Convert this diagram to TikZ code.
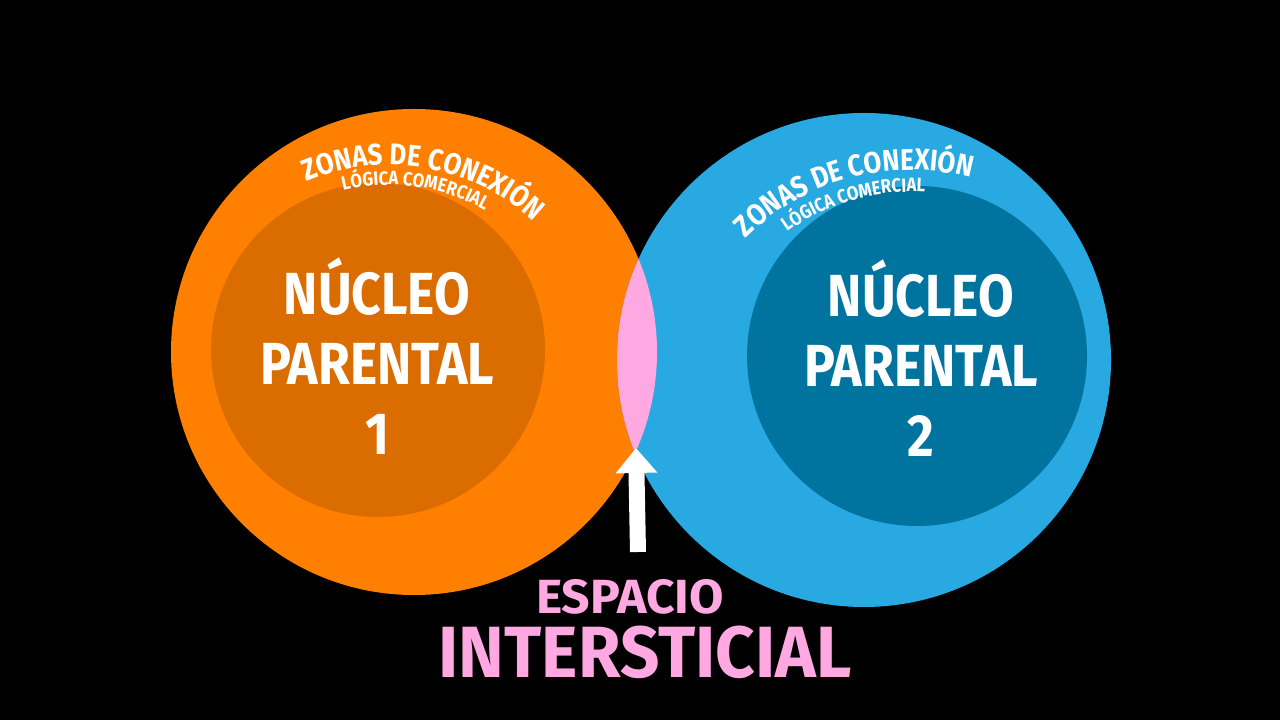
\documentclass[tikz,border=0pt]{standalone}
\usepackage{fontspec}
\usepackage{tikz}
\usetikzlibrary{arrows.meta}
\usetikzlibrary{decorations.text}
\newfontfamily\heavy{Fira Sans}[FakeStretch=0.87]
\newfontfamily\heavywide{Fira Sans}[FakeStretch=0.95]
\newfontfamily\heavyfull{Fira Sans}[FakeStretch=1.04]
\definecolor{orangeout}{HTML}{FF8000}
\definecolor{orangein}{HTML}{DA6C00}
\definecolor{blueout}{HTML}{29A9E1}
\definecolor{bluein}{HTML}{00749F}
\definecolor{lens}{HTML}{FFA8E2}
\newcommand\zonebig{\heavy\bfseries\fontsize{17}{19}\selectfont}
\newcommand\zonesmall{\heavy\bfseries\fontsize{11}{13}\selectfont}

\begin{document}
\begin{tikzpicture}[x=0.02cm, y=0.02cm,
    core/.style={text=white, align=center, font=\heavy\bfseries\fontsize{33.8}{39.8}\selectfont},
    gap/.style={text=lens, anchor=base, inner sep=0pt},
    zone/.style={decorate, decoration={text along path, text align=center, text color=white, text={#1}}},
    pointer/.style={white, line width=9.1pt, -{Triangle[width=22.8pt, length=14.2pt]}}]
    \fill[black] (0,0) rectangle (1280,720);
    \fill[orangeout] (414,368) circle [radius=243];
    \fill[blueout] (864,360) circle [radius=247];
    \begin{scope}
        \clip (414,368) circle [radius=243];
        \fill[lens] (864,360) circle [radius=247];
    \end{scope}
    \fill[orangein] (378,370) circle [radius=167];
    \fill[bluein] (917,364) circle [radius=170];
    % curved labels
    \path[zone={|\zonebig|ZONAS DE CONEXIÓN}] (389,342) ++(125:213) arc [start angle=125, end angle=35, radius=213];
    \path[zone={|\zonesmall|LÓGICA COMERCIAL}] (389,342) ++(127:193) arc [start angle=127, end angle=37, radius=193];
    \path[zone={|\zonebig|ZONAS DE CONEXIÓN}] (911,316) ++(150:234) arc [start angle=150, end angle=60, radius=234];
    \path[zone={|\zonesmall|LÓGICA COMERCIAL}] (911,316) ++(151:212) arc [start angle=151, end angle=61, radius=212];
    \node[core] (core1) at (377,364) {NÚCLEO\\PARENTAL\\1};
    \node[core] (core2) at (921,362) {NÚCLEO\\PARENTAL\\2};
    \node[gap, font=\heavyfull\bfseries\fontsize{27.3}{30}\selectfont] (espacio) at (630,107) {ESPACIO};
    \node[gap, font=\heavywide\bfseries\fontsize{41.3}{44}\selectfont] (intersticial) at (645,43) {INTERSTICIAL};
    \coordinate (lenstip) at (636,272);
    \coordinate (arrowfoot) at (638,168);
    \draw[pointer] (arrowfoot) -- (lenstip);
\end{tikzpicture}
\end{document}
